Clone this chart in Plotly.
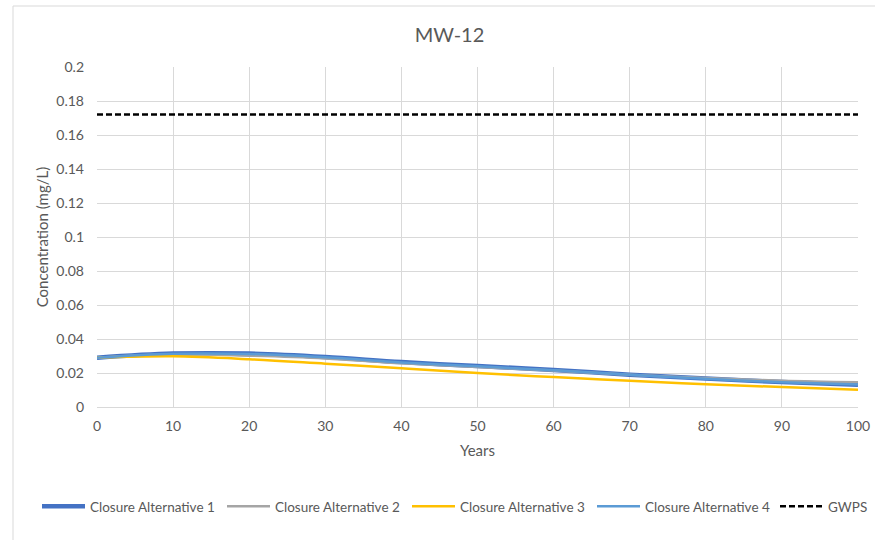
import plotly.graph_objects as go

years = [0, 10, 20, 30, 40, 50, 60, 70, 80, 90, 100]
alt1 = [0.0290, 0.0314, 0.0314, 0.0294, 0.0264, 0.0241, 0.0218, 0.0190, 0.0167, 0.0147, 0.0131]
alt2 = [0.0290, 0.0310, 0.0302, 0.0286, 0.0257, 0.0236, 0.0214, 0.0190, 0.0171, 0.0154, 0.0145]
alt3 = [0.0290, 0.0298, 0.0281, 0.0255, 0.0228, 0.0200, 0.0176, 0.0154, 0.0134, 0.0117, 0.0101]
alt4 = [0.0290, 0.0313, 0.0312, 0.0292, 0.0262, 0.0239, 0.0216, 0.0189, 0.0166, 0.0146, 0.0132]
gwps_years = [0, 100]
gwps = [0.172, 0.172]

series = [
    ("Closure Alternative 1", alt1, "#4472C4", 4.5),
    ("Closure Alternative 2", alt2, "#A5A5A5", 2.5),
    ("Closure Alternative 3", alt3, "#FFC000", 2.5),
    ("Closure Alternative 4", alt4, "#5B9BD5", 2.5),
]

fig = go.Figure()
for name, vals, color, width in series:
    fig.add_trace(go.Scatter(x=years, y=vals, mode="lines", name=name, legend="legend",
                             line=dict(color=color, width=width, shape="spline")))
fig.add_trace(go.Scatter(x=gwps_years, y=gwps, mode="lines", name="GWPS", legend="legend2",
                         line=dict(color="black", width=2.5, dash="6px,3px")))

font_family = "Lato, 'Open Sans', sans-serif"
grid = "#D9D9D9"
PW = 761.0
leg_font = dict(size=13.5, color="#595959")
fig.update_layout(
    width=875, height=540,
    paper_bgcolor="white", plot_bgcolor="white",
    margin=dict(l=97, r=17, t=67, b=133, autoexpand=False),
    font=dict(family=font_family, size=14, color="#595959"),
    title=dict(text="MW-12", x=(449.5 - 97) / PW, xref="paper", xanchor="center",
               y=0.935, yanchor="middle", font=dict(size=20, color="#595959")),
    xaxis=dict(range=[0, 100], dtick=10, tick0=0, showgrid=True, gridcolor=grid, gridwidth=1,
               showline=True, linecolor=grid, linewidth=1, mirror=False, zeroline=False,
               ticks="", ticklabelstandoff=6, automargin=False,
               title=dict(text="Years", font=dict(size=15), standoff=12),
               tickfont=dict(size=14)),
    yaxis=dict(range=[0, 0.2], dtick=0.02, tick0=0, showgrid=True, gridcolor=grid, gridwidth=1,
               showline=False, zeroline=False, ticks="", tickformat="~g", ticklabelstandoff=12,
               automargin=False,
               title=dict(text="Concentration (mg/L)", font=dict(size=15), standoff=4),
               tickfont=dict(size=14)),
    legend=dict(orientation="h", x=(37 - 97) / PW, xanchor="left", y=-0.247, yanchor="top",
                font=leg_font, itemwidth=43, tracegroupgap=0,
                entrywidth=127, entrywidthmode="pixels"),
    legend2=dict(orientation="h", x=(775 - 97) / PW, xanchor="left", y=-0.247, yanchor="top",
                 font=leg_font, itemwidth=43),
    showlegend=True,
    shapes=[dict(type="rect", xref="paper", yref="paper", x0=(13 - 97) / PW, x1=1.5,
                 y0=-1.0, y1=(407 - 6) / 340.0,
                 line=dict(color="#D9D9D9", width=1), fillcolor="rgba(0,0,0,0)", layer="below")],
)

fig.write_html("out.html", config={"displayModeBar": False},
               post_script="document.body.style.margin='0';")
